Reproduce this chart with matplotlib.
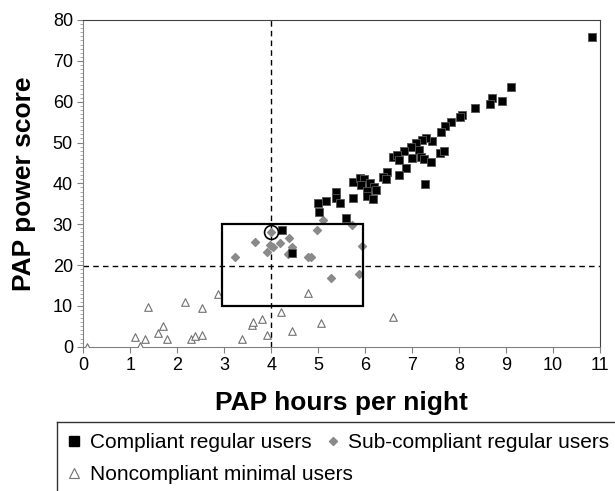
import matplotlib
matplotlib.use('Agg')
import matplotlib.pyplot as plt
from matplotlib.lines import Line2D
from matplotlib.patches import Rectangle
from matplotlib.ticker import MultipleLocator

plt.rcParams['font.family'] = ['Liberation Sans', 'DejaVu Sans']

# Compliant regular users (black squares)
comp_x = [10.82, 9.11, 8.70, 8.66, 8.91, 8.33, 8.07, 8.01, 7.83, 7.70, 7.61, 7.43,
          7.29, 7.20, 7.09, 6.97, 6.83, 7.15, 6.60, 6.67, 6.72, 7.00, 7.19, 7.25,
          7.41, 7.59, 7.67, 6.88, 6.72, 7.28, 6.47, 6.38, 6.44, 5.74, 5.89, 5.97,
          5.92, 6.10, 6.19, 6.24, 6.04, 6.05, 6.17, 5.74, 5.38, 5.37, 5.47, 5.16,
          5.00, 5.01, 5.60, 4.22, 4.44]
comp_y = [75.9, 63.5, 61.0, 59.4, 60.1, 58.5, 56.7, 56.3, 55.0, 54.0, 52.6, 50.4,
          51.2, 50.6, 49.8, 49.0, 48.0, 48.2, 46.5, 46.9, 45.6, 46.3, 46.4, 46.0,
          45.3, 47.5, 47.9, 43.8, 42.0, 39.8, 42.8, 41.5, 41.1, 40.3, 41.2, 41.0,
          39.6, 40.0, 39.2, 38.4, 38.2, 37.0, 36.2, 36.3, 37.8, 36.4, 35.2, 35.8,
          35.1, 32.9, 31.4, 28.5, 22.9]

# Sub-compliant regular users (grey diamonds)
sub_x = [3.24, 3.65, 3.99, 3.98, 4.04, 3.92, 4.18, 4.38, 4.45, 4.36, 4.78, 4.84,
         4.97, 5.10, 5.72, 5.93, 5.27, 5.88]
sub_y = [21.9, 25.6, 28.2, 24.8, 24.4, 23.2, 25.4, 26.7, 24.3, 22.6, 21.9, 21.9,
         28.5, 31.1, 29.9, 24.6, 16.8, 17.7]

# Noncompliant minimal users (open triangles)
non_x = [0.07, 1.21, 1.09, 1.32, 1.37, 1.59, 1.69, 1.79, 2.17, 2.29, 2.38, 2.53,
         2.53, 2.87, 3.37, 3.60, 3.62, 3.80, 3.91, 4.21, 4.45, 4.79, 5.06, 6.59]
non_y = [0.0, 0.2, 2.3, 2.0, 9.6, 3.4, 5.1, 2.0, 11.0, 2.0, 2.6, 2.9,
         9.4, 12.8, 2.0, 5.3, 6.0, 6.9, 2.9, 8.4, 3.8, 13.1, 5.9, 7.2]

cut_x = 4
cut_y = 19.7
box_x = [2.96, 5.96]
box_y = [10, 30]
circled = (3.99, 28.2)

W, H = 615, 491
fig = plt.figure(figsize=(W / 100, H / 100), dpi=100)
ax = fig.add_axes([83.3 / W, 1 - 346.7 / H, (600 - 83.3) / W, (346.7 - 20) / H])

ax.scatter(non_x, non_y, marker='^', s=30, facecolors='white',
           edgecolors='#707070', linewidths=0.8, zorder=3)
ax.scatter(sub_x, sub_y, marker='D', s=16, color='#8a8a8a', zorder=3)
ax.scatter(comp_x, comp_y, marker='s', s=26, color='black',
           edgecolors='#555555', linewidths=0.6, zorder=4)

ax.axvline(cut_x, color='black', ls=(0, (4, 3)), lw=1.0, zorder=2)
ax.axhline(cut_y, color='black', ls=(0, (4, 3)), lw=1.0, zorder=2)
ax.add_patch(Rectangle((box_x[0], box_y[0]), box_x[1] - box_x[0], box_y[1] - box_y[0],
                       fill=False, edgecolor='black', lw=1.6, zorder=5))
ax.plot([circled[0]], [circled[1]], marker='o', ms=10, mfc='none', mec='black',
        mew=1.2, zorder=6)

ax.set_xlim(0, 11)
ax.set_ylim(0, 80)
ax.xaxis.set_major_locator(MultipleLocator(1))
ax.yaxis.set_major_locator(MultipleLocator(10))
ax.yaxis.set_minor_locator(MultipleLocator(1))
ax.tick_params(axis='both', which='major', labelsize=13, color='#808080',
               length=4, direction='out')
ax.tick_params(axis='y', which='minor', color='#a0a0a0', length=2)
for s in ['left', 'bottom']:
    ax.spines[s].set_color('#808080')
for s in ['top', 'right']:
    ax.spines[s].set_color('#404040')

fig.text(((83.3 + 600) / 2) / W, 1 - 410 / H, 'PAP hours per night',
         fontsize=19, fontweight='bold', ha='center', va='baseline')
fig.text(24 / W, 1 - ((20 + 346.7) / 2) / H, 'PAP power score', fontsize=19,
         fontweight='bold', rotation=90, ha='center', va='center')

# legend: Excel-style flowing rows, frame runs off the figure
h_comp = Line2D([], [], ls='none', marker='s', ms=6.5, color='black')
h_sub = Line2D([], [], ls='none', marker='D', ms=4.5, color='#8a8a8a')
h_non = Line2D([], [], ls='none', marker='^', ms=6.5, mfc='white', mec='#707070', mew=0.8)
common = dict(loc='center left', frameon=False, bbox_transform=fig.transFigure,
              fontsize=15, handlelength=0.8, handletextpad=0.35, borderpad=0,
              borderaxespad=0)
fig.legend([h_comp, h_sub], ['Compliant regular users', 'Sub-compliant regular users'],
           ncol=2, columnspacing=0.62, bbox_to_anchor=(66 / W, 1 - 443 / H), **common)
fig.legend([h_non], ['Noncompliant minimal users'],
           bbox_to_anchor=(66 / W, 1 - 475 / H), **common)
fig.add_artist(Line2D([57 / W, 1], [1 - 422 / H] * 2, color='#333333', lw=1,
                      transform=fig.transFigure))
fig.add_artist(Line2D([57 / W] * 2, [0, 1 - 422 / H], color='#333333', lw=1,
                      transform=fig.transFigure))

fig.savefig('out.png', dpi=100)
